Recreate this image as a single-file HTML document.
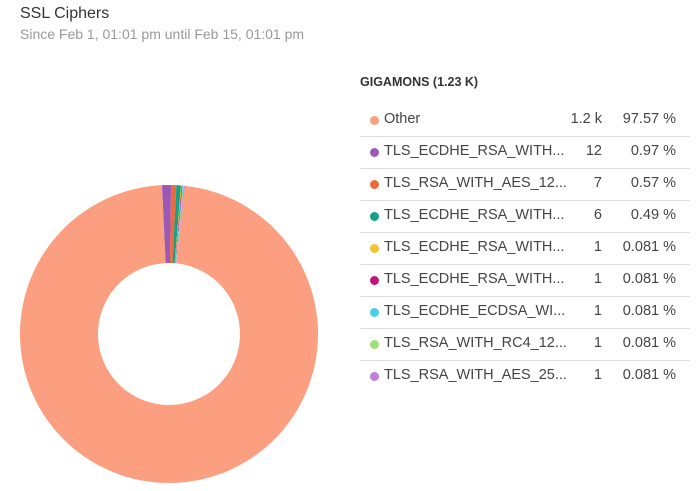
<!DOCTYPE html>
<html><head><meta charset="utf-8"><style>
body{margin:0;width:700px;height:491px;background:#fff;font-family:"Liberation Sans",sans-serif;overflow:hidden;position:relative}
.title{position:absolute;left:20px;top:5px;font-size:16px;color:#333}
.sub{position:absolute;left:20px;top:26px;font-size:14px;color:#999}
.lh{position:absolute;left:360px;top:75px;font-size:12.5px;font-weight:bold;color:#333}
.row{position:absolute;left:360px;width:330px;height:32px;border-bottom:1px solid #ddd;font-size:14.5px;color:#444}
.row span{position:absolute;top:7px}
.dot{width:9px;height:9px;border-radius:50%;left:10px;top:11.5px!important}
.nm{left:24px}.ct{right:88px}.pc{right:14px}
</style></head><body>
<div class="title">SSL Ciphers</div>
<div class="sub">Since Feb 1, 01:01 pm until Feb 15, 01:01 pm</div>
<svg id="pie" width="700" height="491" style="position:absolute;left:0;top:0"></svg>
<div class="lh">GIGAMONS (1.23 K)</div>
<div id="legend"></div>
<script>
const labels=["Other","TLS_ECDHE_RSA_WITH...","TLS_RSA_WITH_AES_12...","TLS_ECDHE_RSA_WITH...","TLS_ECDHE_RSA_WITH...","TLS_ECDHE_RSA_WITH...","TLS_ECDHE_ECDSA_WI...","TLS_RSA_WITH_RC4_12...","TLS_RSA_WITH_AES_25..."];
const counts=["1.2 k","12","7","6","1","1","1","1","1"];
const percents=[97.57,0.97,0.57,0.49,0.081,0.081,0.081,0.081,0.081];
const colors=["#fc9f80","#9b59b6","#f0693a","#16a085","#f8c032","#c0147a","#44cfee","#9ee07a","#bf7ddc"];
const svg=document.getElementById('pie');
const cx=169,cy=334,R=149,r=71;
const total=percents.reduce((a,b)=>a+b,0);
let a0=-0.047-percents[0]/total*2*Math.PI;
percents.forEach((p,i)=>{
  const a1=a0+p/total*2*Math.PI;
  const pt=(rad,a)=>[cx+rad*Math.sin(a),cy-rad*Math.cos(a)];
  const [x1,y1]=pt(R,a0),[x2,y2]=pt(R,a1),[x3,y3]=pt(r,a1),[x4,y4]=pt(r,a0);
  const lg=(a1-a0)>Math.PI?1:0;
  const path=document.createElementNS('http://www.w3.org/2000/svg','path');
  path.setAttribute('d',`M${x1},${y1}A${R},${R} 0 ${lg} 1 ${x2},${y2}L${x3},${y3}A${r},${r} 0 ${lg} 0 ${x4},${y4}Z`);
  path.setAttribute('fill',colors[i]);
  
  
  svg.appendChild(path);
  a0=a1;
});
const lg=document.getElementById('legend');
labels.forEach((l,i)=>{
  const d=document.createElement('div');
  d.className='row';
  d.style.top=(104+i*32)+'px';
  if(i==labels.length-1)d.style.borderBottom='none';
  
  
  d.innerHTML=`<span class="dot" style="background:${colors[i]}"></span><span class="nm">${l}</span><span class="ct">${counts[i]}</span><span class="pc">${percents[i]} %</span>`;
  lg.appendChild(d);
});
</script>
</body></html>
